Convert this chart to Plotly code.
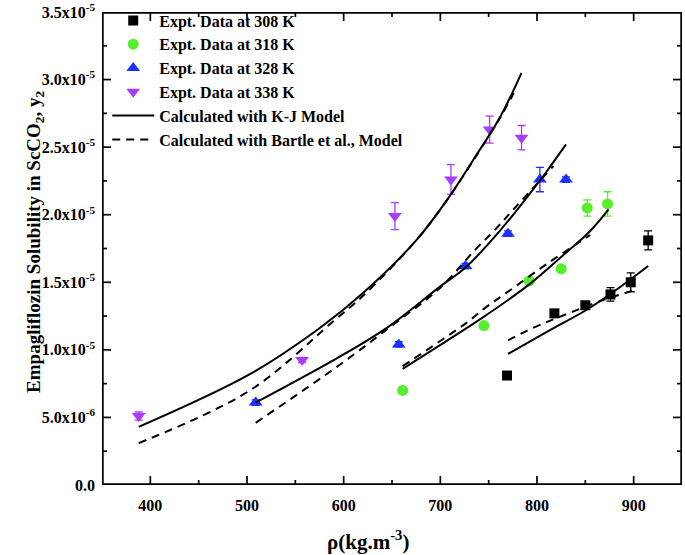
import plotly.graph_objects as go

# ---------------- data (solubility values in units of 1e-6) ----------------
rho_308 = [769, 818, 850, 876, 897, 915]
y_308 = [8.1, 12.7, 13.3, 14.1, 15.0, 18.1]
err_308 = [0.0, 0.0, 0.0, 0.5, 0.7, 0.7]

rho_318 = [661, 745, 792, 825, 852, 873]
y_318 = [7.0, 11.8, 15.1, 16.0, 20.5, 20.8]
err_318 = [0.0, 0.0, 0.0, 0.2, 0.6, 0.9]

rho_328 = [509, 657, 726, 770, 803, 830]
y_328 = [6.1, 10.4, 16.2, 18.6, 22.6, 22.6]
err_328 = [0.2, 0.2, 0.2, 0.2, 0.9, 0.2]

rho_338 = [388, 557, 653, 711, 751, 784]
y_338 = [5.1, 9.25, 19.9, 22.6, 26.3, 25.7]
err_338 = [0.3, 0.2, 1.0, 1.1, 1.0, 0.9]

# K-J model curves
kj_rho_308 = [770, 813, 851, 886, 915]
kj_308 = [9.7, 11.45, 12.95, 14.65, 16.2]
kj_rho_318 = [661, 703, 744, 793, 827, 855, 874]
kj_318 = [8.6, 10.5, 12.4, 14.9, 17.0, 18.8, 20.4]
kj_rho_328 = [509, 596, 645, 700, 727, 765, 793, 810, 830]
kj_328 = [6.1, 9.5, 11.65, 14.7, 16.15, 19.1, 21.6, 23.2, 25.2]
kj_rho_338 = [388, 503, 575, 620, 675, 707, 734, 762, 784]
kj_338 = [4.3, 8.2, 11.6, 14.2, 18.1, 21.1, 24.05, 27.25, 30.5]

# Bartle et al. model curves
b_rho_308 = [770, 795, 815, 836, 865, 900]
b_308 = [10.7, 11.6, 12.2, 12.8, 13.6, 14.4]
b_rho_318 = [661, 727, 748, 769, 810, 855]
b_318 = [8.8, 12.0, 13.2, 14.25, 16.35, 18.5]
b_rho_328 = [509, 596, 650, 700, 736, 758, 777, 817]
b_328 = [4.6, 8.9, 11.8, 14.6, 17.4, 19.0, 20.5, 23.6]
b_rho_338 = [388, 503, 589, 620, 675, 707, 734, 762, 776]
b_338 = [3.1, 7.0, 12.1, 14.0, 18.1, 21.1, 24.0, 27.2, 29.0]

x_range = [350, 950]
y_range = [0, 35]
x_ticks = [400, 500, 600, 700, 800, 900]
x_minor = [450, 550, 650, 750, 850]
y_tickvals = [0, 5, 10, 15, 20, 25, 30, 35]
y_minor = [2.5, 7.5, 12.5, 17.5, 22.5, 27.5, 32.5]
y_ticktext = ["0.0", "5.0x10<sup>-6</sup>", "1.0x10<sup>-5</sup>", "1.5x10<sup>-5</sup>",
              "2.0x10<sup>-5</sup>", "2.5x10<sup>-5</sup>", "3.0x10<sup>-5</sup>",
              "3.5x10<sup>-5</sup>"]

SCALE = 1e-6
FONT = "Liberation Serif, Times New Roman, serif"
PLOT_W, PLOT_H = 580, 473

def sc(v):
    return [a * SCALE for a in v]

fig = go.Figure()

# ---- frame and inside ticks, built from the axis ranges and tick lists ----
x0, x1 = x_range
y0, y1 = y_range[0] * SCALE, y_range[1] * SCALE
px_x = (x1 - x0) / PLOT_W          # data units per pixel along x
px_y = (y1 - y0) / PLOT_H          # data units per pixel along y
fig.add_trace(go.Scatter(
    x=[x0, x1, x1, x0, x0], y=[y0, y0, y1, y1, y0], mode="lines",
    line=dict(color="black", width=3.4), showlegend=False, hoverinfo="skip",
))
tx, ty = [], []
for vals, ln in ((x_ticks, 9), (x_minor, 5)):
    for v in vals:
        tx += [v, v, None, v, v, None]
        ty += [y0, y0 + ln * px_y, None, y1, y1 - ln * px_y, None]
for vals, ln in ((y_tickvals[1:-1], 9), (y_minor, 5)):
    for v in vals:
        yv = v * SCALE
        tx += [x0, x0 + ln * px_x, None, x1, x1 - ln * px_x, None]
        ty += [yv, yv, None, yv, yv, None]
fig.add_trace(go.Scatter(
    x=tx, y=ty, mode="lines", line=dict(color="black", width=1.7),
    showlegend=False, hoverinfo="skip", connectgaps=False,
))

expt = [
    ("Expt. Data at 308 K", rho_308, y_308, err_308, "black", "square", 10),
    ("Expt. Data at 318 K", rho_318, y_318, err_318, "#55f02a", "circle", 11),
    ("Expt. Data at 328 K", rho_328, y_328, err_328, "#1a30ff", "triangle-up", 12),
    ("Expt. Data at 338 K", rho_338, y_338, err_338, "#a83cff", "triangle-down", 12),
]
for name, xs, ys, es, col, sym, sz in expt:
    fig.add_trace(go.Scatter(
        x=xs, y=sc(ys), mode="markers", name=name,
        marker=dict(color=col, symbol=sym, size=sz, line=dict(width=0)),
        error_y=dict(type="data", array=sc(es), color=col, thickness=1.3, width=4),
    ))

kj_sets = [(kj_rho_308, kj_308), (kj_rho_318, kj_318), (kj_rho_328, kj_328), (kj_rho_338, kj_338)]
for i, (xs, ys) in enumerate(kj_sets):
    fig.add_trace(go.Scatter(
        x=xs, y=sc(ys), mode="lines", name="Calculated with K-J Model",
        line=dict(color="black", width=2, shape="spline", smoothing=1.0),
        showlegend=(i == 0), legendgroup="kj",
    ))

b_sets = [(b_rho_308, b_308), (b_rho_318, b_318), (b_rho_328, b_328), (b_rho_338, b_338)]
for i, (xs, ys) in enumerate(b_sets):
    fig.add_trace(go.Scatter(
        x=xs, y=sc(ys), mode="lines", name="Calculated with Bartle et al., Model",
        line=dict(color="black", width=2, dash="8px,6px", shape="spline", smoothing=1.0),
        showlegend=(i == 0), legendgroup="bartle",
    ))

axis_common = dict(
    showline=False, ticks="", showgrid=False, zeroline=False, automargin=False,
    tickfont=dict(family=FONT, size=16, color="black", weight="bold"),
)
fig.update_xaxes(
    range=x_range, tickmode="array", tickvals=x_ticks, ticktext=[str(v) for v in x_ticks],
    ticklabelstandoff=9, **axis_common,
)
fig.update_yaxes(
    range=[y0, y1], tickmode="array", tickvals=sc(y_tickvals), ticktext=y_ticktext,
    ticklabelstandoff=6, **axis_common,
)

fig.add_annotation(
    text="\u03c1(kg.m<sup>-3</sup>)", xref="paper", yref="paper",
    x=0.4586, y=-0.118, xanchor="center", yanchor="middle", showarrow=False,
    font=dict(family=FONT, size=21, color="black", weight="bold"),
)
fig.add_annotation(
    text="Empagliflozin Solubility in ScCO<sub>2</sub>, y<sub>2</sub>",
    xref="paper", yref="paper", x=-0.1155, y=0.514, textangle=-90,
    xanchor="center", yanchor="middle", showarrow=False,
    font=dict(family=FONT, size=19, color="black", weight="bold"),
)

fig.update_layout(
    width=685, height=555,
    margin=dict(l=102, r=3, t=12, b=70),
    paper_bgcolor="white", plot_bgcolor="white",
    font=dict(family=FONT, color="black"),
    showlegend=True,
    legend=dict(
        x=0.009, y=1.018, xanchor="left", yanchor="top",
        bgcolor="rgba(0,0,0,0)", borderwidth=0,
        font=dict(family=FONT, size=16, color="black", weight="bold"),
        itemwidth=42, tracegroupgap=0,
    ),
)

fig.write_html("out.html", config={"displayModeBar": False},
               post_script="document.body.style.margin='0px';")
